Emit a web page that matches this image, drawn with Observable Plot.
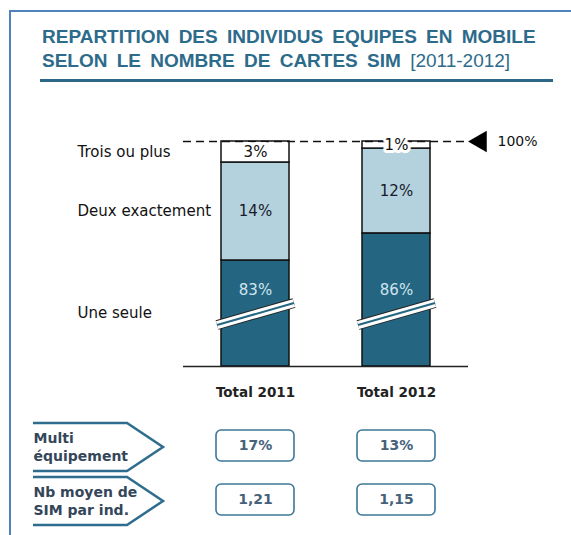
<!DOCTYPE html>
<html>
<head>
<meta charset="utf-8">
<script src="https://cdn.jsdelivr.net/npm/d3@7"></script>
<script src="https://cdn.jsdelivr.net/npm/@observablehq/plot@0.6"></script>
<style>
  html, body { margin: 0; padding: 0; background: #fff; }
  #page { position: relative; width: 571px; height: 535px; overflow: hidden; background: #fff; font-family: "DejaVu Sans", sans-serif; }
  #frameline { position: absolute; left: 9px; top: 10px; width: 600px; height: 600px; border-left: 2px solid #4f81bd; border-top: 2px solid #4f81bd; }
  #title { position: absolute; left: 42px; top: 25px; font-family: "Liberation Sans", sans-serif; font-weight: bold; font-size: 19px; line-height: 24px; color: #2d6b8b; word-spacing: 4px; white-space: nowrap; }
  #title .yr { font-weight: normal; word-spacing: 0; }
  #rule { position: absolute; left: 40px; top: 79px; width: 513px; height: 3px; background: #2c6787; }
  #chart { position: absolute; left: 0; top: 100px; }
  #table { position: absolute; left: 0; top: 410px; }
</style>
</head>
<body>
<div id="page">
  <div id="frameline"></div>
  <div id="title">REPARTITION DES INDIVIDUS EQUIPES EN MOBILE<br>SELON LE NOMBRE DE CARTES SIM <span class="yr">[2011-2012]</span></div>
  <div id="rule"></div>
  <div id="chart"></div>
  <div id="table"></div>
</div>
<script>
// ---- data ----
const years = ["Total 2011", "Total 2012"];
const categories = ["Une seule", "Deux exactement", "Trois ou plus"];
const values2011 = [83, 14, 3];
const values2012 = [86, 12, 1];
const metricLabels = ["Multi\néquipement", "Nb moyen de\nSIM par ind."];
const multiValues = ["17%", "13%"];
const simValues = ["1,21", "1,15"];
const refLabel = "100%";

const colors = ["#246682", "#b3d2de", "#ffffff"];

const rows = [];
[values2011, values2012].forEach((vals, i) => {
  categories.forEach((c, j) => rows.push({year: years[i], category: c, value: vals[j]}));
});

// broken y axis: the share below `knee` is compressed
const knee = 0.8;
const kneeFrac = 85 / 225;
const breakAt = 0.489;
const darkLabelAt = 0.715;
const yRange = [266, 41];

function brokenT(t) {
  return t < knee ? t / knee * kneeFrac : kneeFrac + (t - knee) / (1 - knee) * (1 - kneeFrac);
}
function brokenInverse(u) {
  return u < kneeFrac ? u / kneeFrac * knee : knee + (u - kneeFrac) / (1 - kneeFrac) * (1 - knee);
}
const brokenInterpolate = (a, b) => t => a + (b - a) * brokenT(t);

// left labels: visual midpoint of each 2011 segment
const tot2011 = d3.sum(values2011);
let cum = 0;
const leftLabels = categories.map((c, j) => {
  const a = cum / tot2011, b = (cum + values2011[j]) / tot2011;
  cum += values2011[j];
  return {category: c, y: brokenInverse((brokenT(a) + brokenT(b)) / 2)};
});

const xOpts = {domain: years, range: [183, 468], paddingInner: 0.52, paddingOuter: 0.27, axis: null};

function bandwidthOf(x) {
  return typeof x.bandwidth === "function" ? x.bandwidth() : x.bandwidth;
}

function breakMarks(index, scales) {
  const {x, y} = scales;
  const bw = bandwidthOf(x);
  const g = d3.create("svg:g");
  for (const yr of years) {
    const x0 = x(yr) - 4, x1 = x(yr) + bw + 5, yc = y(breakAt);
    const d = `M${x0},${yc + 11}L${x1},${yc - 11}`;
    g.append("path").attr("d", d).attr("stroke", "#222").attr("stroke-width", 10).attr("fill", "none");
    g.append("path").attr("d", d).attr("stroke", "#fff").attr("stroke-width", 8).attr("fill", "none");
    g.append("path").attr("d", d).attr("stroke", "#246682").attr("stroke-width", 2).attr("fill", "none");
  }
  return g.node();
}

const stackOpts = {offset: "normalize"};

const chart = Plot.plot({
  width: 571,
  height: 310,
  marginLeft: 183,
  marginRight: 103,
  marginTop: 0,
  marginBottom: 44,
  style: {fontFamily: "DejaVu Sans, sans-serif", background: "transparent"},
  x: xOpts,
  y: {domain: [0, 1], range: yRange, interpolate: brokenInterpolate, axis: null},
  color: {domain: categories, range: colors},
  marks: [
    Plot.barY(rows, Plot.stackY(stackOpts, {x: "year", y: "value", z: "category", fill: "category", stroke: "#111", strokeWidth: 1.5})),
    breakMarks,
    Plot.ruleY([0], {stroke: "#222", strokeWidth: 1.5}),
    Plot.ruleY([1], {stroke: "#111", strokeWidth: 1.5, strokeDasharray: "8,5"}),
    Plot.dot([1], {y: d => d, frameAnchor: "right", dx: 12, symbol: "triangle", rotate: -90, r: 8, fill: "#000", stroke: "none"}),
    Plot.text([1], {y: d => d, frameAnchor: "right", dx: 29, textAnchor: "start", text: () => refLabel, fontSize: 14, fill: "#111"}),
    Plot.text(rows, Plot.stackY(stackOpts, {x: "year", y: "value", z: "category",
      text: d => d.category === "Trois ou plus" ? d.value + "%" : null,
      fontSize: 15, fill: "#111", stroke: "#fff", strokeWidth: 6, paintOrder: "stroke", strokeLinejoin: "round"})),
    Plot.text(rows, Plot.stackY(stackOpts, {x: "year", y: "value", z: "category",
      text: d => d.category === "Deux exactement" ? d.value + "%" : null,
      fontSize: 15, fill: "#1a1a2a"})),
    Plot.text(rows.filter(d => d.category === "Une seule"), {x: "year", y: () => darkLabelAt,
      text: d => d.value + "%", fontSize: 15, fill: "#cfe4ee"}),
    Plot.text(leftLabels, {y: "y", text: "category", frameAnchor: "left", dx: -106, textAnchor: "start", fontSize: 15, fill: "#111"}),
    Plot.text(years, {x: d => d, frameAnchor: "bottom", dy: 30, text: d => d, fontSize: 13.5, fontWeight: "bold", fill: "#222"})
  ]
});
document.getElementById("chart").appendChild(chart);

// ---- bottom table ----
const tableRows = [];
years.forEach((yr, i) => {
  tableRows.push({year: yr, metric: metricLabels[0], value: multiValues[i]});
  tableRows.push({year: yr, metric: metricLabels[1], value: simValues[i]});
});

function pentagons(index, scales) {
  const {y} = scales;
  const bw = bandwidthOf(y);
  const g = d3.create("svg:g");
  for (const m of metricLabels) {
    const t = y(m) - 7, b = y(m) + bw + 10, mid = (t + b) / 2;
    g.append("path")
      .attr("d", `M33,${t}L127,${t}L163,${mid}L127,${b}L33,${b}`)
      .attr("fill", "#fff").attr("stroke", "#2e6d8d").attr("stroke-width", 2.5).attr("stroke-linejoin", "miter");
  }
  return g.node();
}

const table = Plot.plot({
  width: 571,
  height: 125,
  marginLeft: 183,
  marginRight: 103,
  marginTop: 0,
  marginBottom: 0,
  style: {fontFamily: "DejaVu Sans, sans-serif", background: "transparent"},
  x: xOpts,
  y: {domain: metricLabels, range: [20, 105], paddingInner: 0.426, paddingOuter: 0, axis: null},
  marks: [
    pentagons,
    Plot.text(metricLabels, {y: d => d, text: d => d, frameAnchor: "left", dx: -150, textAnchor: "start", lineHeight: 1.3, fontSize: 14, fontWeight: "bold", fill: "#34465a"}),
    Plot.cell(tableRows, {x: "year", y: "metric", fill: "#fff", stroke: "#3d7797", strokeWidth: 1.6, rx: 5, insetLeft: -5, insetRight: -5}),
    Plot.text(tableRows, {x: "year", y: "metric", text: "value", fontSize: 14, fontWeight: "bold", fill: "#46627a"})
  ]
});
document.getElementById("table").appendChild(table);
</script>
</body>
</html>
